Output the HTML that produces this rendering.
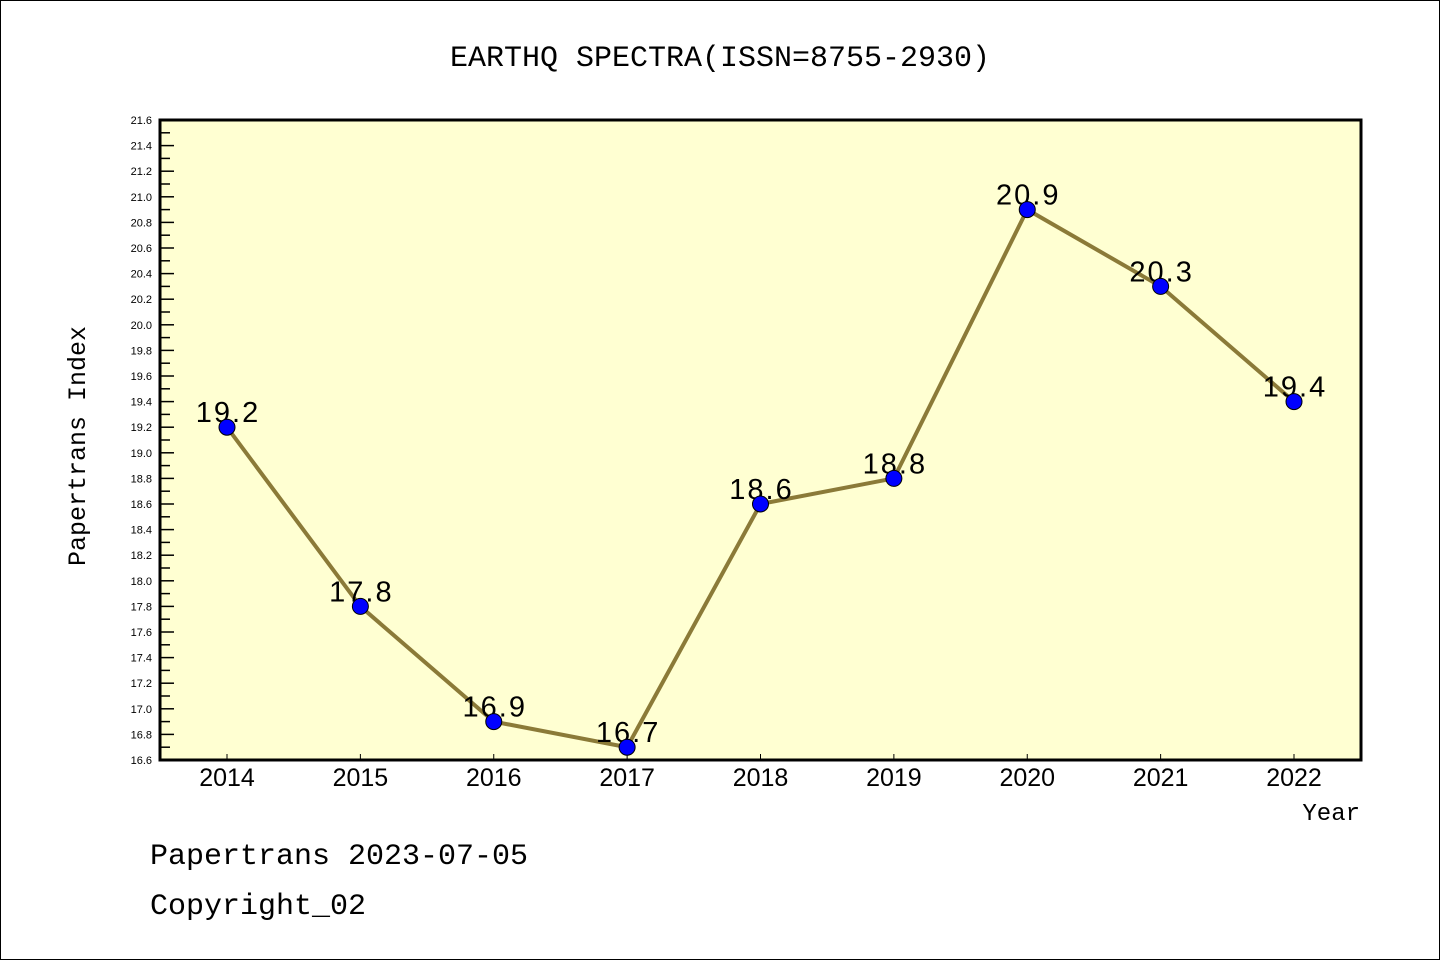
<!DOCTYPE html>
<html><head><meta charset="utf-8"><style>
html,body{margin:0;padding:0;background:#fff;}
svg{display:block;}
.m{font-family:"Liberation Mono","Noto Sans CJK SC",monospace;fill:#000;}
.s{font-family:"Liberation Sans",sans-serif;fill:#000;}
</style></head><body>
<svg id="chart" width="1440" height="960">
<rect x="0.5" y="0.5" width="1439" height="959" fill="#fff" stroke="#000"/>
<text class="m" x="720" y="66" font-size="30" text-anchor="middle">EARTHQ SPECTRA(ISSN=8755-2930)</text>
<rect x="160" y="120" width="1201" height="640" fill="#ffffd2"/>
<g id="yaxis"></g>
<g id="xaxis"></g>
<g id="series"></g>
<rect x="160" y="120" width="1201" height="640" fill="none" stroke="#000" stroke-width="3"/>
<text class="m" transform="translate(85,446) rotate(-90)" font-size="25" text-anchor="middle">Papertrans Index</text>
<text class="m" x="1360" y="820" font-size="24" text-anchor="end">Year</text>
<text class="m" x="150" y="864" font-size="30">Papertrans 2023-07-05</text>
<text class="m" x="150" y="914" font-size="30">Copyright_02</text>
</svg>
<script>
const years = [2014,2015,2016,2017,2018,2019,2020,2021,2022];
const values = [19.2,17.8,16.9,16.7,18.6,18.8,20.9,20.3,19.4];
const labels = ["19.2","17.8","16.9","16.7","18.6","18.8","20.9","20.3","19.4"];
const yMin = 16.6, yMax = 21.6;
const NS="http://www.w3.org/2000/svg";
const x0=160,x1=1361,y0=760,y1=120;
function yS(v){return y0-(v-yMin)/(yMax-yMin)*(y0-y1);}
function xS(i){return 227+i*(1294-227)/(years.length-1);}
function mk(t,a,p){const e=document.createElementNS(NS,t);for(const k in a)e.setAttribute(k,a[k]);p.appendChild(e);return e;}
const ya=document.getElementById('yaxis');
for(let k=0;k<=50;k++){
  const v=yMin+k*0.1, y=yS(v), major=k%2===0;
  const t=mk('line',{x1:x0,x2:x0+(major?14:10),y1:y,y2:y,stroke:'#000','stroke-width':1.5},ya);
  
  
  if(major){
    const l=mk('text',{class:'s',x:152,y:y+4,'font-size':11,'text-anchor':'end'},ya);
    l.textContent=v.toFixed(1);
    
    
  }
}
const xa=document.getElementById('xaxis');
years.forEach((yr,i)=>{
  const x=xS(i);
  const t=mk('line',{x1:x,x2:x,y1:y0,y2:y0-6,stroke:'#000','stroke-width':1},xa);
  
  
  const l=mk('text',{class:'s',x:x,y:786,'font-size':25,'text-anchor':'middle'},xa);
  l.textContent=yr;
  
  
});
const s=document.getElementById('series');
const pl=mk('polyline',{points:values.map((v,i)=>xS(i)+','+yS(v)).join(' '),fill:'none',stroke:'#8b7a38','stroke-width':4},s);


values.forEach((v,i)=>{
  const l=mk('text',{class:'s',x:xS(i)+1,y:yS(v)-5,'font-size':29,'letter-spacing':2,'text-anchor':'middle'},s);
  l.textContent=labels[i];
  
  
});
values.forEach((v,i)=>{
  const c=mk('circle',{cx:xS(i),cy:yS(v),r:8,fill:'#0000ff',stroke:'#000','stroke-width':1},s);
  
  
});
</script>
</body></html>
